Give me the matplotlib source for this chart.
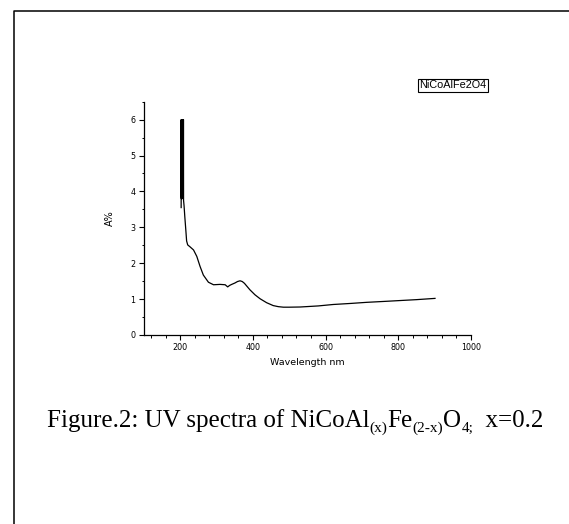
import matplotlib
matplotlib.use("Agg")
import matplotlib.pyplot as plt
from matplotlib.lines import Line2D
from matplotlib.ticker import MultipleLocator

# ---- data ----
wavelength = [203.0, 203.3, 203.6, 203.9, 204.2, 204.5, 204.8, 205.1, 205.4, 205.7,
              206.0, 206.3, 206.6, 206.9, 207.2, 207.5, 207.8, 208.1, 208.4, 208.7,
              209.0, 209.3, 209.6,
              211, 213, 216, 218, 221, 227, 237, 246, 255, 264, 278, 292, 310, 324,
              331, 336, 342, 351, 358, 365, 371, 377, 392, 406, 420, 438, 456, 470,
              484, 500, 530, 580, 621, 670, 713, 760, 805, 850, 901]
absorbance = [3.55, 6.0, 3.8, 6.0, 3.85, 6.0, 3.8, 6.0, 3.9, 6.0,
              3.82, 6.0, 3.85, 6.0, 3.8, 6.0, 3.9, 6.0, 3.85, 6.0,
              3.8, 6.0, 3.75,
              3.6, 3.3, 2.9, 2.62, 2.51, 2.46, 2.37, 2.19, 1.91, 1.67, 1.47, 1.40,
              1.41, 1.40, 1.34, 1.38, 1.41, 1.45, 1.49, 1.51, 1.49, 1.44, 1.26,
              1.12, 1.01, 0.90, 0.82, 0.79, 0.775, 0.775, 0.78, 0.81, 0.85, 0.88,
              0.91, 0.935, 0.96, 0.985, 1.02]
x_ticks = [200, 400, 600, 800, 1000]
y_ticks = [0, 1, 2, 3, 4, 5, 6]
legend_label = "NiCoAlFe2O4"
x_label = "Wavelength nm"
y_label = "A%"
caption_parts = [("Figure.2: UV spectra of NiCoAl", False), ("(x)", True),
                 ("Fe", False), ("(2-x)", True), ("O", False), ("4;", True),
                 ("  x=0.2", False)]

W, H = 569, 524
fig = plt.figure(figsize=(W / 100, H / 100), dpi=100)
fig.patch.set_facecolor('white')

ax = fig.add_axes([143.7 / W, 1 - 335 / H, (471 - 143.7) / W, (335 - 101.7) / H])
ax.plot(wavelength, absorbance, color='black', lw=0.9)
ax.set_xlim(100, 1000)
ax.set_ylim(0, 6.5)
ax.set_xticks(x_ticks)
ax.set_yticks(y_ticks)
ax.xaxis.set_minor_locator(MultipleLocator(40))
ax.yaxis.set_minor_locator(MultipleLocator(0.5))
for s in ['top', 'right']:
    ax.spines[s].set_visible(False)
for s in ['left', 'bottom']:
    ax.spines[s].set_linewidth(0.9)
ax.tick_params(which='major', direction='out', length=3.3, width=0.8,
               labelsize=5.8, pad=2.5)
ax.tick_params(which='minor', direction='out', length=1.8, width=0.7)
ax.set_xlabel(x_label, fontsize=6.8, labelpad=4)
ax.set_ylabel(y_label, fontsize=7, labelpad=11)

fig.text(453 / W, 1 - 85.5 / H, legend_label, fontsize=7.8, family='Liberation Sans',
         ha='center', va='center',
         bbox=dict(boxstyle='square,pad=0.12', fc='white', ec='black', lw=0.8))

# caption with subscripts, laid out piece by piece
renderer = fig.canvas.get_renderer()
xpix = 47.0
base = 427.0
main_size, sub_size, sub_drop = 18, 11, 5.0
for txt, is_sub in caption_parts:
    size = sub_size if is_sub else main_size
    ypix = base + (sub_drop if is_sub else 0)
    t = fig.text(xpix / W, 1 - ypix / H, txt, fontsize=size, family='Liberation Serif',
                 ha='left', va='baseline')
    xpix += t.get_window_extent(renderer).width

# page frame (left and top edges)
fig.add_artist(Line2D([13.7 / W, 13.7 / W, 1.0], [0.0, 1 - 11 / H, 1 - 11 / H],
                      transform=fig.transFigure, color='black', lw=1.1))

fig.savefig('out.png', dpi=100)
